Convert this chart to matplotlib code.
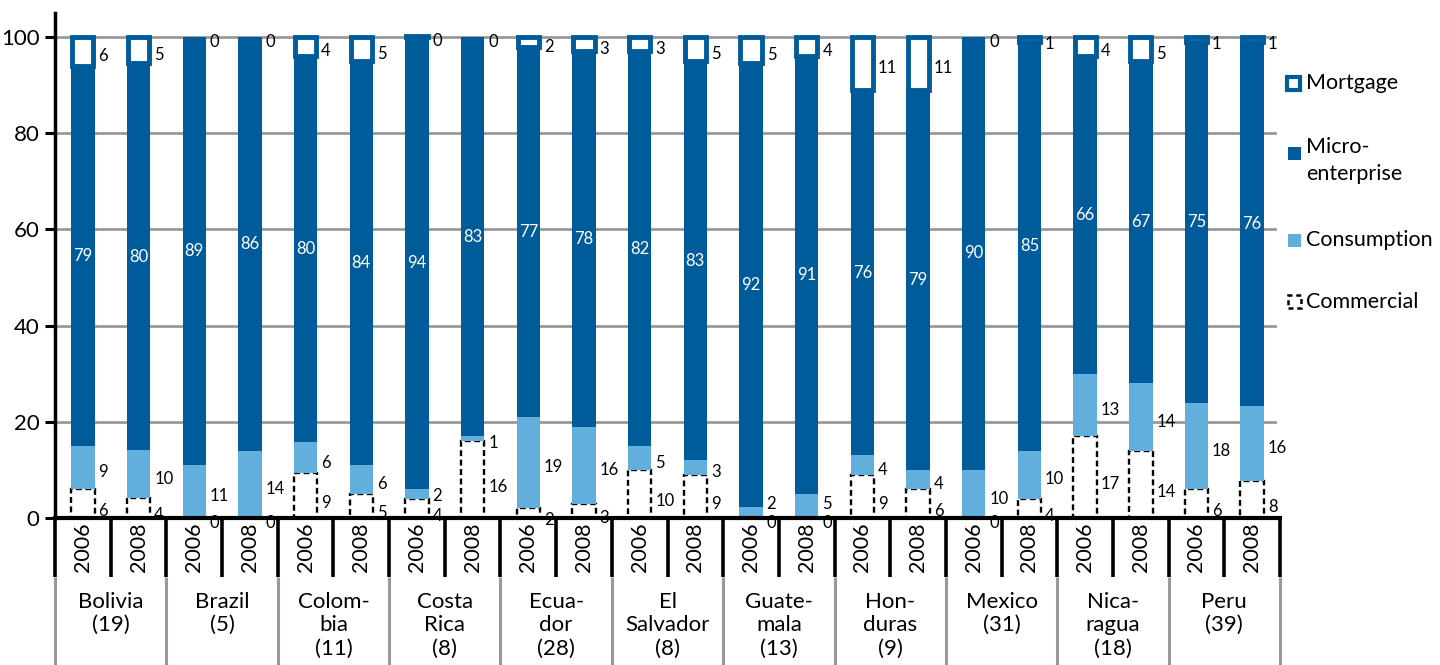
import numpy as np
import matplotlib
matplotlib.use("Agg")
import matplotlib.pyplot as plt
from matplotlib.patches import Rectangle

plt.rcParams["font.family"] = ["Lato", "DejaVu Sans"]

# Data (share of portfolio, %)
countries = ["Bolivia\n(19)", "Brazil\n(5)", "Colom-\nbia\n(11)", "Costa\nRica\n(8)",
             "Ecua-\ndor\n(28)", "El\nSalvador\n(8)", "Guate-\nmala\n(13)",
             "Hon-\nduras\n(9)", "Mexico\n(31)", "Nica-\nragua\n(18)", "Peru\n(39)"]
years = ["2006", "2008"]

commercial = [6, 4.2, 0, 0, 9.3, 5, 4, 16, 2, 3, 10, 9, 0, 0, 9, 6, 0, 4, 17, 14, 6, 7.6]
consumption = [9, 9.9, 11, 14, 6.4, 6, 2, 1, 19, 16, 5, 3, 2.3, 5, 4, 4, 10, 10, 13, 14, 18, 15.7]
micro = [79, 80.4, 89, 86, 80.4, 84, 94, 83, 77, 78, 82, 83, 92.3, 91, 76, 79, 90, 85, 66, 67, 75, 75.6]
mortgage = [6, 5.4, 0, 0, 3.9, 5, 0.3, 0, 2, 3, 3, 5, 5.4, 4, 11, 11, 0, 1, 4, 5, 1, 1.1]

DARK = "#005b9a"
LIGHT = "#62aedc"

commercial = np.array(commercial, dtype=float)
consumption = np.array(consumption, dtype=float)
micro = np.array(micro, dtype=float)
mortgage = np.array(mortgage, dtype=float)

n = len(commercial)
x = np.arange(n)
w = 0.42

fig = plt.figure(figsize=(14.4, 6.65), dpi=100)
ax = fig.add_axes([0.0382, 0.2211, 0.8507, 0.7594])

# grid
for g in [20, 40, 60, 80, 100]:
    ax.axhline(g, color="#999999", lw=2, zorder=0, xmax=0.996)

b1 = commercial
b2 = b1 + consumption
b3 = b2 + micro

ax.bar(x, commercial, w, color="white", edgecolor="black", lw=1.7,
       linestyle=(0, (2.5, 1.5)), zorder=2)
ax.bar(x, consumption, w, bottom=b1, color=LIGHT, lw=0, zorder=2)
ax.bar(x, micro, w, bottom=b2, color=DARK, lw=0, zorder=2)
ax.bar(x, mortgage, w - 0.04, bottom=b3, color="white", edgecolor=DARK,
       lw=[3.5 if m > 0 else 0 for m in mortgage], zorder=3)

# data labels
lx = x + w / 2 + 0.07
fs = 12
for i in range(n):
    y_com = max(commercial[i] / 2 - 1.5, -1)
    y_con = max(b1[i] + consumption[i] / 2 - 1, y_com + 4)
    ax.text(lx[i], y_com, f"{commercial[i]:.0f}",
            ha="left", va="center", fontsize=fs, zorder=5)
    ax.text(lx[i], y_con, f"{consumption[i]:.0f}",
            ha="left", va="center", fontsize=fs, zorder=5)
    ax.text(x[i], b2[i] + micro[i] / 2, f"{micro[i]:.0f}",
            ha="center", va="center", fontsize=fs, color="white", zorder=5)
    ax.text(lx[i], b3[i] + mortgage[i] / 2 - 1, f"{mortgage[i]:.0f}",
            ha="left", va="center", fontsize=fs, zorder=5)

ax.set_xlim(-0.5, n - 0.5)
ax.set_ylim(0, 105)
ax.set_yticks([0, 20, 40, 60, 80, 100])
ax.tick_params(axis="y", labelsize=16, length=7, width=2.2, direction="out", pad=4)
ax.set_xticks([])
for s in ["top", "right"]:
    ax.spines[s].set_visible(False)
ax.spines["left"].set_linewidth(2.5)
ax.spines["bottom"].set_linewidth(3)
ax.spines["left"].set_zorder(6)
ax.spines["bottom"].set_zorder(6)

# category axis (years + countries)
tr = ax.get_xaxis_transform()
y_tick_bot = -0.117
y_fig_bot = -0.2911
for k in range(n + 1):
    xs = k - 0.5
    ax.plot([xs, xs], [0, y_tick_bot], color="black", lw=2.6, transform=tr,
            clip_on=False, solid_capstyle="butt")
    if k % 2 == 0:
        ax.plot([xs, xs], [y_tick_bot, y_fig_bot], color="#999999", lw=2.2,
                transform=tr, clip_on=False, solid_capstyle="butt")

for i in range(n):
    ax.text(x[i], -0.058, years[i % 2], rotation=90, ha="center", va="center",
            fontsize=15.5, transform=tr)

for j, c in enumerate(countries):
    ax.text(2 * j + 0.5, -0.146, c, ha="center", va="top", fontsize=16,
            linespacing=1.22, transform=tr)

# legend
def fx(px):
    return px / 1440


def fy(py):
    return 1 - py / 665


sq = 13
fig.patches.append(Rectangle((fx(1287), fy(90)), fx(sq), sq / 665, facecolor="white",
                             edgecolor=DARK, lw=3, transform=fig.transFigure))
fig.patches.append(Rectangle((fx(1288), fy(160)), fx(sq), sq / 665, facecolor=DARK,
                             lw=0, transform=fig.transFigure))
fig.patches.append(Rectangle((fx(1288), fy(247)), fx(sq), sq / 665, facecolor=LIGHT,
                             lw=0, transform=fig.transFigure))
fig.patches.append(Rectangle((fx(1288), fy(308)), fx(sq), sq / 665, facecolor="white",
                             edgecolor="black", lw=1.8, linestyle=(0, (2, 1.5)),
                             transform=fig.transFigure))
lfs = 15.5
fig.text(fx(1306), fy(83), "Mortgage", va="center", ha="left", fontsize=lfs)
fig.text(fx(1306), fy(147), "Micro-", va="center", ha="left", fontsize=lfs)
fig.text(fx(1306), fy(174), "enterprise", va="center", ha="left", fontsize=lfs)
fig.text(fx(1306), fy(240), "Consumption", va="center", ha="left", fontsize=lfs)
fig.text(fx(1306), fy(302), "Commercial", va="center", ha="left", fontsize=lfs)

fig.savefig("out.png", dpi=100)
